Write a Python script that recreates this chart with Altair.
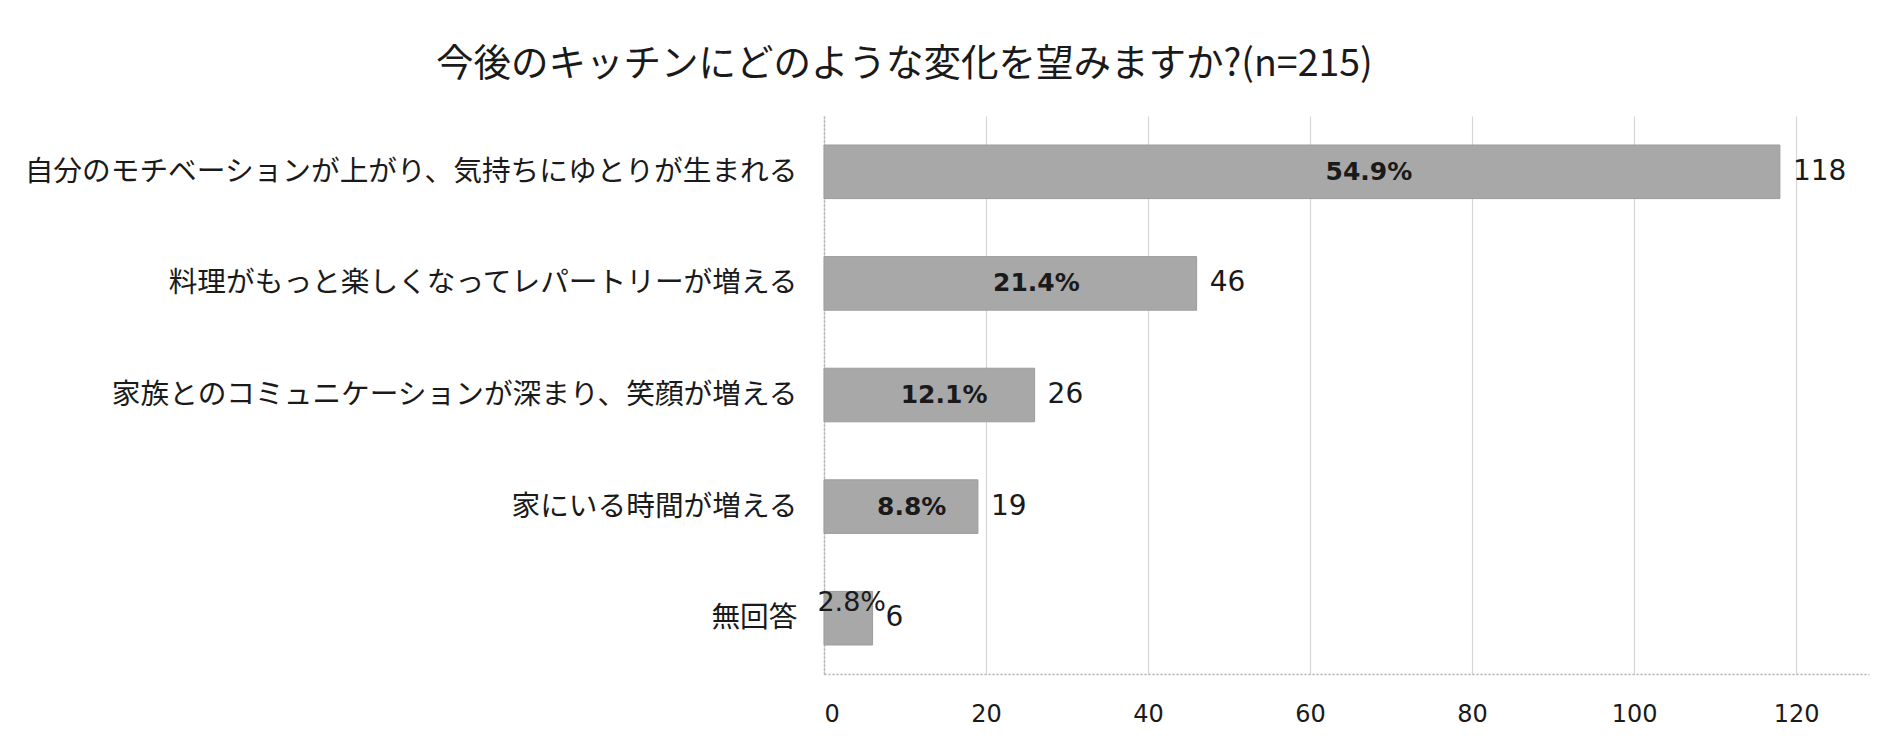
import altair as alt
import pandas as pd

categories = [
    "自分のモチベーションが上がり、気持ちにゆとりが生まれる",
    "料理がもっと楽しくなってレパートリーが増える",
    "家族とのコミュニケーションが深まり、笑顔が増える",
    "家にいる時間が増える",
    "無回答",
]
counts = [118, 46, 26, 19, 6]
pcts = [54.9, 21.4, 12.1, 8.8, 2.8]
x_ticks = [0, 20, 40, 60, 80, 100, 120]
title_text = "今後のキッチンにどのような変化を望みますか?(n=215)"

df = pd.DataFrame({"cat": categories, "count": counts, "pct": pcts})

JP = "Noto Sans CJK JP"
NUM = "DejaVu Sans"

x_scale = alt.Scale(domain=[0, 129], nice=False, zero=True)
y_scale = alt.Scale(paddingInner=0.52, paddingOuter=0.26)

base = alt.Chart(df)

bars = base.mark_bar(color="#a8a8a8", stroke="#9c9c9c", strokeWidth=1).encode(
    x=alt.X(
        "count:Q",
        scale=x_scale,
        axis=alt.Axis(
            values=x_ticks,
            title=None,
            grid=True,
            gridColor="#d6d6d6",
            gridWidth=1.2,
            domain=True,
            domainColor="#b0b0b0",
            domainDash=[2, 2],
            domainWidth=1.5,
            ticks=False,
            labelFont=NUM,
            labelFontSize=24,
            labelColor="#1a1a1a",
            labelPadding=28,
        ),
    ),
    y=alt.Y(
        "cat:N",
        sort=None,
        scale=y_scale,
        axis=alt.Axis(
            title=None,
            domain=True,
            domainColor="#b0b0b0",
            domainDash=[2, 2],
            domainWidth=1.5,
            ticks=False,
            labelFont=JP,
            labelFontSize=28.7,
            labelColor="#1a1a1a",
            labelPadding=27,
            labelLimit=900,
        ),
    ),
)

pct_base = base.transform_calculate(
    xpos="datum.count * 0.57",
    lbl="format(datum.pct, '.1f') + '%'",
)

pct_labels = pct_base.transform_filter("datum.count >= 10").mark_text(
    font=NUM, fontSize=25, fontWeight="bold", color="#1a1a1a",
    align="center", baseline="middle",
).encode(
    x=alt.X("xpos:Q", scale=x_scale),
    y=alt.Y("cat:N", sort=None, scale=y_scale),
    text="lbl:N",
)

pct_small = pct_base.transform_filter("datum.count < 10").mark_text(
    font=NUM, fontSize=27, color="#1a1a1a",
    align="center", baseline="middle", dy=-15,
).encode(
    x=alt.X("xpos:Q", scale=x_scale),
    y=alt.Y("cat:N", sort=None, scale=y_scale),
    text="lbl:N",
)

val_labels = base.mark_text(
    font=NUM, fontSize=28, color="#1a1a1a", align="left", baseline="middle", dx=13,
).encode(
    x=alt.X("count:Q", scale=x_scale),
    y=alt.Y("cat:N", sort=None, scale=y_scale),
    text="count:Q",
)

chart = (
    alt.layer(bars, pct_labels, pct_small, val_labels)
    .properties(
        width=1045,
        height=558,
        background="white",
        autosize=alt.AutoSizeParams(type="none"),
        padding={"left": 816, "top": 108, "right": 3, "bottom": 60},
        title=alt.TitleParams(
            text=title_text,
            anchor="start",
            frame="group",
            dx=-388,
            offset=33,
            font=JP,
            fontSize=37.5,
            fontWeight="normal",
            color="#1a1a1a",
        ),
    )
    .configure_view(strokeWidth=0, stroke="transparent")
)

chart.save("out.html", embed_options={"renderer": "svg", "actions": False})
